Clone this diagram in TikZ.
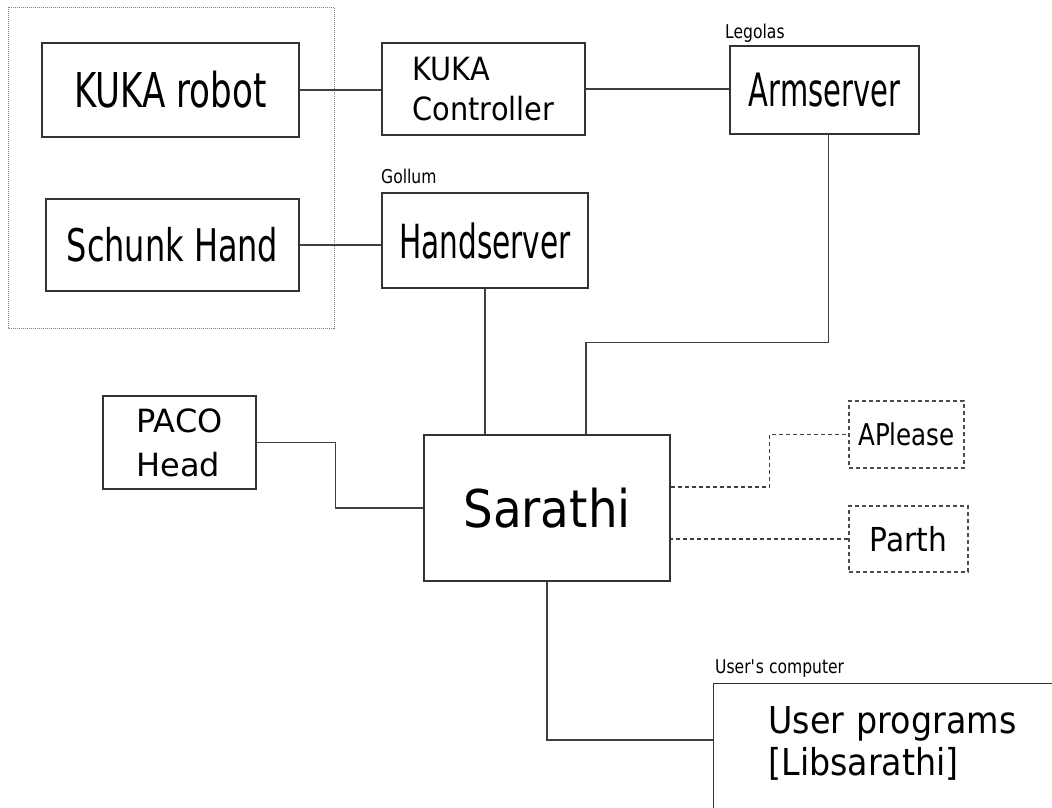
\documentclass[tikz,border=0pt]{standalone}
\usepackage{fontspec}
\setmainfont{DejaVu Sans}
\newfontfamily\narrowfont[FakeStretch=0.63]{DejaVu Sans}
\newfontfamily\condfont[FakeStretch=0.71]{DejaVu Sans}
\newfontfamily\lblfont[FakeStretch=0.82]{DejaVu Sans}
\newfontfamily\semifont[FakeStretch=0.9]{DejaVu Sans}

\tikzset{
	box/.style={draw=black!80, line width=1.2pt, inner sep=0pt, align=center},
	optbox/.style={box, draw=black!70, dash pattern=on 4pt off 3pt},
	link/.style={draw=black!75, line width=1.2pt},
	optlink/.style={link, dash pattern=on 4pt off 3pt},
	lbl/.style={anchor=base west, inner sep=0pt, font=\lblfont\fontsize{19}{22}\selectfont},
}

\begin{document}
\begin{tikzpicture}[x=1pt, y=-1pt]
	\useasboundingbox (0,0) rectangle (1052,807);
	\clip (0,0) rectangle (1052,807);
	
	% robot hardware
	\draw[gray, line width=0.8pt, dash pattern=on 1pt off 1pt] (8,7) rectangle (334,328);
	\node[box, minimum width=257pt, minimum height=94pt, font=\condfont\fontsize{48}{56}\selectfont] (robot) at (170.5,90) {KUKA robot};
	\node[box, minimum width=253pt, minimum height=92pt, font=\condfont\fontsize{45}{54}\selectfont] (hand) at (172.5,245) {Schunk Hand};
	
	% servers
	\node[box, minimum width=203pt, minimum height=92pt, align=left, font=\semifont\fontsize{32}{40}\selectfont] (ctrl) at (483.5,89) {KUKA\\Controller};
	\node[box, minimum width=189pt, minimum height=88pt, font=\narrowfont\fontsize{46}{54}\selectfont] (arm) at (824.5,90) {Armserver};
	\node[box, minimum width=206pt, minimum height=95pt, font=\narrowfont\fontsize{47}{54}\selectfont] (handsrv) at (485,240.5) {Handserver};
	\node[lbl] (legolas) at (725,38) {Legolas};
	\node[lbl] (gollum) at (381,183) {Gollum};
	
	% sarathi and clients
	\node[box, minimum width=153pt, minimum height=93pt, align=left, font=\fontsize{32}{44}\selectfont] (paco) at (179.5,442.5) {PACO\\Head};
	\node[box, minimum width=246pt, minimum height=146pt, font=\semifont\fontsize{52}{60}\selectfont] (sarathi) at (547,508) {Sarathi};
	\node[optbox, minimum width=115pt, minimum height=67pt, font=\lblfont\fontsize{30}{36}\selectfont] (aplease) at (906.5,434.5) {APlease};
	\node[optbox, minimum width=119pt, minimum height=66pt, font=\semifont\fontsize{33}{38}\selectfont] (parth) at (908.5,539) {Parth};
	\node[box, anchor=north west, text width=320pt, inner xsep=55pt, inner ysep=0pt, text height=50pt, text depth=100pt, align=left, font=\semifont\fontsize{37}{42}\selectfont] (user) at (713,683) {User programs\\{}[Libsarathi]};
	\node[lbl] (usercomp) at (715,673) {User\textquotesingle s computer};
	
	% connections
	\draw[link] (robot.east) -- (robot.east -| ctrl.west);
	\draw[link] (ctrl.east) -- (ctrl.east -| arm.west);
	\draw[link] (hand.east) -- (hand.east -| handsrv.west);
	\draw[link] (handsrv.south) -- (handsrv.south |- sarathi.north);
	\draw[link] ([xshift=4pt]arm.south) -- ++(0,208) -| ([xshift=39pt]sarathi.north);
	\draw[link] (paco.east) -- ++(79,0) |- (sarathi.west);
	\draw[optlink] ([yshift=21pt]sarathi.east) -- ++(99,0) |- (aplease.west);
	\draw[optlink] (parth.west) -- (parth.west -| sarathi.east);
	\draw[link] (sarathi.south) |- ([yshift=-57pt]user.north west);
\end{tikzpicture}
\end{document}
